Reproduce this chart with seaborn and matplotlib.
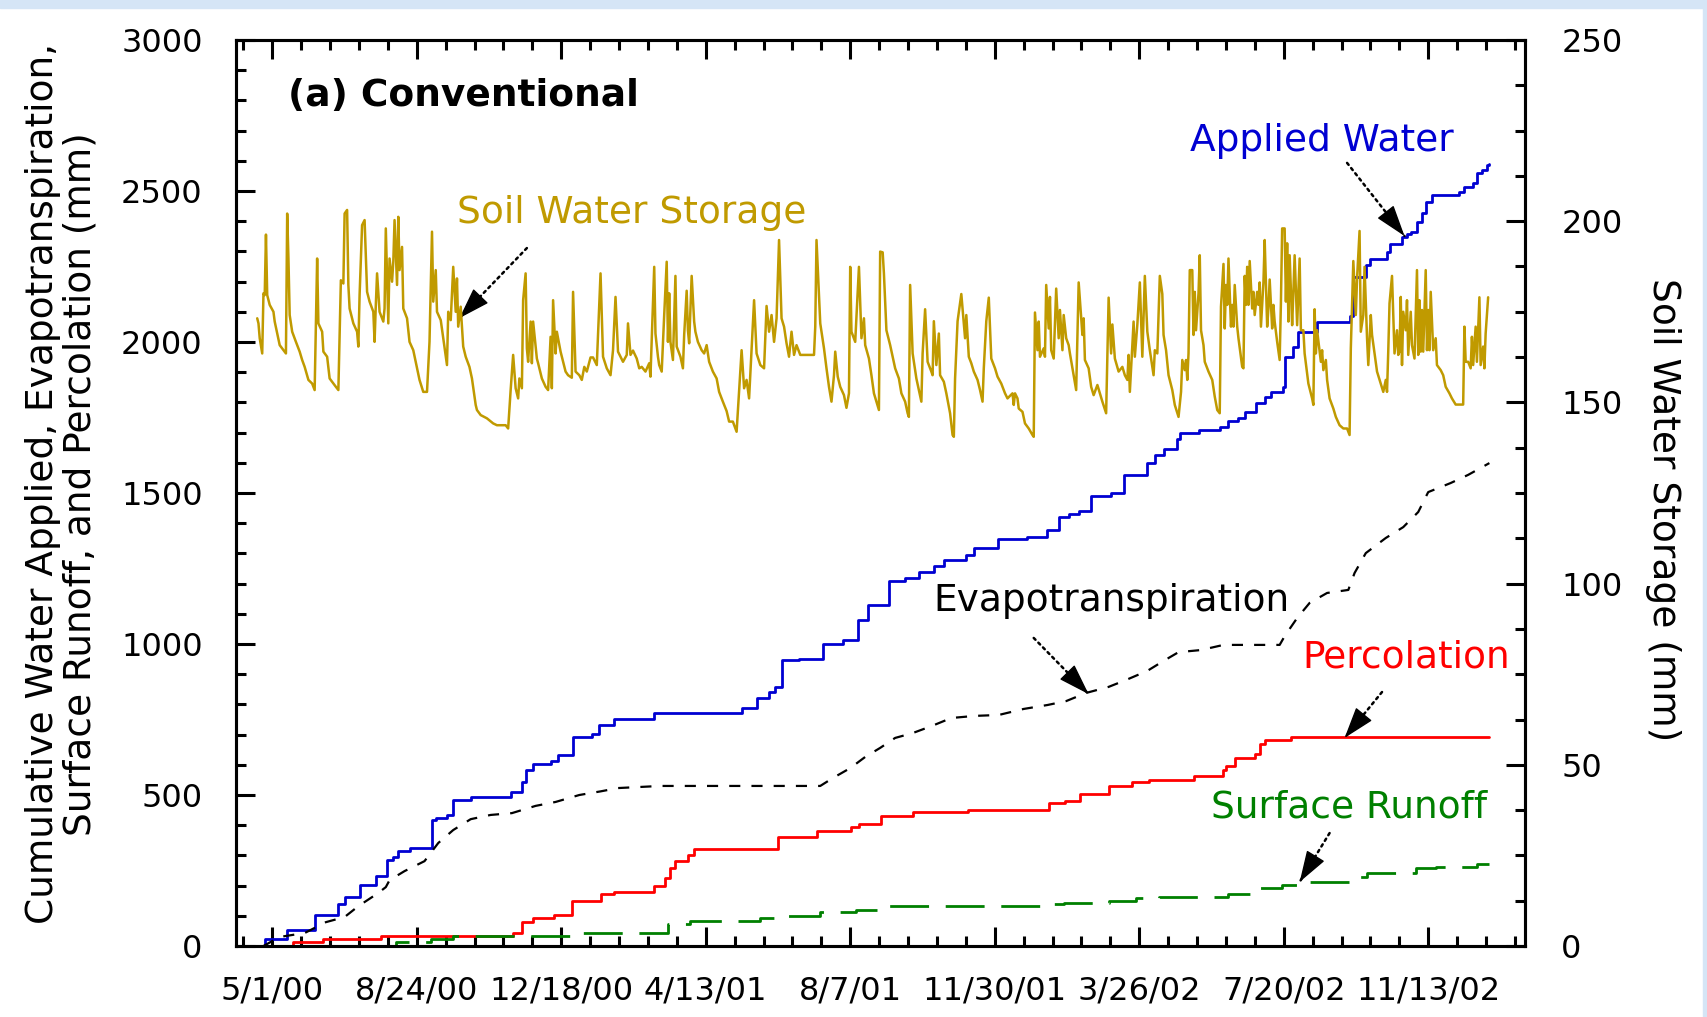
import matplotlib
matplotlib.use('Agg')
import matplotlib.pyplot as plt
from matplotlib.patches import Rectangle
from matplotlib.ticker import MultipleLocator, FixedLocator
import numpy as np
import seaborn as sns

# all x values are days counted from 5/1/00
applied_day = [-8, -6, 12, 34, 53, 58, 70, 83, 92, 97, 101, 110, 128, 131, 140, 145, 159, 191, 200, 203,
               209, 223, 229, 241, 256, 262, 274, 306, 376, 388, 398, 403, 408, 422, 441, 457, 469, 477, 494, 507,
               518, 530, 538, 556, 562, 581, 605, 621, 630, 638, 646, 656, 672, 682, 701, 707, 714, 725, 727, 742,
               759, 766, 774, 779, 788, 795, 800, 810, 811, 818, 822, 837, 863, 866, 876, 879, 893, 895, 905, 909,
               912, 917, 921, 924, 929, 951, 955, 962, 965, 969, 973, 975]
applied_mm = [0, 23, 53, 103, 140, 162, 202, 232, 285, 295, 315, 324, 417, 424, 434, 483, 493, 510, 543, 583,
              603, 613, 632, 692, 702, 732, 752, 771, 788, 821, 841, 858, 947, 950, 1000, 1013, 1079, 1129, 1209, 1218,
              1238, 1258, 1278, 1295, 1318, 1348, 1354, 1377, 1420, 1430, 1440, 1490, 1500, 1560, 1599, 1626, 1646, 1679, 1699, 1708,
              1718, 1738, 1748, 1768, 1798, 1818, 1834, 1851, 1950, 1983, 2033, 2066, 2086, 2215, 2255, 2275, 2298, 2324, 2348, 2358,
              2364, 2397, 2427, 2463, 2487, 2497, 2513, 2526, 2560, 2569, 2586, 2590]

et_day = [-7, 6, 26, 43, 58, 69, 80, 86, 91, 94, 106, 122, 133, 145, 159, 175, 192, 211, 227, 246,
          263, 277, 311, 439, 449, 463, 475, 487, 499, 513, 528, 544, 563, 582, 602, 621, 636, 652, 670, 684,
          701, 714, 726, 744, 762, 807, 811, 821, 831, 845, 862, 867, 876, 892, 906, 918, 926, 944, 958, 975]
et_mm = [0, 30, 43, 79, 96, 132, 162, 179, 195, 218, 248, 281, 341, 384, 420, 434, 440, 464, 477, 500,
         512, 523, 530, 530, 556, 589, 626, 656, 689, 705, 728, 755, 762, 765, 785, 798, 811, 838, 858, 881,
         911, 944, 973, 980, 997, 997, 1026, 1086, 1136, 1169, 1179, 1235, 1301, 1351, 1387, 1437, 1503, 1533, 1560, 1599]

perc_day = [14, 17, 41, 87, 193, 200, 209, 226, 240, 263, 274, 306, 315, 319, 323, 333, 338, 405, 436, 464,
            470, 488, 513, 557, 622, 635, 647, 670, 689, 702, 738, 762, 764, 771, 787, 791, 795, 816, 975]
perc_mm = [0, 13, 23, 33, 43, 79, 93, 103, 149, 172, 179, 199, 225, 258, 281, 301, 321, 361, 381, 394,
           404, 430, 444, 450, 473, 480, 503, 530, 543, 550, 563, 583, 596, 622, 636, 669, 682, 692, 692]

runoff_day = [-7, 99, 127, 145, 245, 317, 335, 391, 409, 439, 468, 485, 488, 618, 634, 670, 692, 710, 766, 788,
              791, 809, 822, 865, 871, 877, 916, 932, 965, 975]
runoff_mm = [0, 13, 23, 33, 43, 73, 83, 93, 99, 113, 119, 126, 132, 139, 142, 149, 159, 162, 172, 179,
             192, 202, 212, 215, 228, 242, 258, 262, 272, 272]

# soil water storage (right axis, mm)
sws_day = [-12, -11, -10, -8, -7, -6, -5, -4, -2, 1,
           2, 4, 6, 9, 11, 12, 13, 14, 16, 19,
           22, 24, 26, 29, 32, 34, 35, 36, 37, 40,
           41, 44, 46, 49, 51, 53, 54, 55, 57, 58,
           60, 61, 62, 65, 68, 69, 70, 72, 74, 76,
           78, 81, 82, 83, 84, 86, 89, 90, 91, 93,
           94, 96, 97, 98, 100, 101, 102, 104, 105, 108,
           110, 113, 116, 118, 121, 124, 126, 128, 129, 131,
           132, 135, 137, 140, 141, 143, 145, 147, 148, 149,
           151, 153, 155, 158, 160, 163, 164, 167, 172, 177,
           180, 187, 189, 191, 193, 195, 197, 198, 200, 201,
           203, 204, 205, 207, 208, 209, 212, 213, 216, 219,
           221, 223, 224, 225, 227, 228, 229,
           231, 233, 235, 237, 240, 241, 243, 246, 248, 250,
           252, 255, 257, 260, 263, 265, 268, 271, 273, 275,
           277, 279, 281, 284, 285, 287, 289, 292, 294, 296,
           299, 302, 303, 306, 307, 309, 310, 312, 314, 316,
           317, 318, 319, 321, 322, 323, 324, 327, 329, 330,
           332, 333, 334, 336, 338, 339, 341, 344, 346, 348,
           350, 353, 356, 358, 361, 364, 366, 369, 372, 374,
           376, 378, 380, 382, 384, 386, 388, 391, 394, 396,
           398, 400, 402, 404, 406, 408, 410, 412, 414, 416,
           418, 420, 423, 434, 435, 436, 439, 442, 444, 446,
           448, 450, 451, 453, 455, 458, 460, 462, 463, 464,
           467, 470, 472, 474, 475, 478,
           480, 482, 484, 486, 487, 489, 490, 492, 495, 497,
           499, 502, 504, 507, 509, 510, 511, 513, 516, 518,
           520, 521, 523, 525, 528, 529, 530, 532, 534, 535,
           538, 540, 543, 545, 546, 547, 549, 552, 555, 556,
           558, 560, 562, 565, 567, 569, 570, 572, 574, 576,
           579, 581, 584, 587, 589, 593, 594, 595, 597, 598,
           601, 603, 606, 609, 610, 611, 613, 614, 615, 618,
           619, 620, 622, 623, 624, 626, 628, 630, 631, 633,
           634, 636, 638, 639, 641, 644, 645, 646, 649, 650,
           651, 654, 656, 658, 661, 663, 665, 668, 670, 672,
           673, 675, 678, 681, 683, 685, 686, 687, 690, 691,
           693, 695, 697, 698, 699, 701, 703, 706, 707, 709,
           711, 713, 714, 716, 718, 721, 723, 726,
           728, 729, 731, 732, 733, 734, 735, 737, 738, 739,
           740, 742, 743, 744, 746, 747, 750, 753, 755, 757,
           759, 760, 762, 763, 764, 765, 766, 768, 769, 770,
           771, 773, 774, 777, 778, 779, 780, 781, 782, 783,
           785, 786, 787, 789, 790, 791, 792, 794, 795, 797,
           798, 799, 801, 802, 803, 805, 807, 808, 809, 811,
           812, 813, 814, 815, 817, 818, 819, 821, 823, 824,
           826, 827, 830, 833, 834, 835, 836, 837, 840, 841,
           842, 844, 845, 847, 850, 852, 855, 858, 861, 863,
           864, 866, 868, 869, 871, 872, 874, 875, 877, 878,
           880, 881, 883, 885, 888, 890, 892, 893, 894, 895,
           897, 899, 901, 902, 903, 904, 905, 906, 908, 909,
           910, 912, 913, 915, 917, 918, 919, 920, 921, 922,
           924, 925, 926, 927, 928, 930, 932, 933, 936, 938,
           940, 943, 945, 948, 954, 955, 956, 958, 960, 961,
           962, 964, 965, 967, 968, 970, 971, 972, 974]
sws_mm = [173.2, 171.8, 167.7, 163.5, 180.1, 179.6, 196.3, 179.6, 176.9, 175.0,
          172.3, 169.0, 165.8, 164.4, 163.5, 202.1, 189.7, 174.1, 169.5, 166.7,
          164.0, 161.7, 159.8, 156.2, 155.2, 153.4, 171.3, 189.7, 171.8, 169.5,
          164.0, 162.6, 156.6, 155.2, 154.3, 153.4, 169.0, 183.7, 182.8, 202.1,
          203.1, 182.4, 175.9, 171.8, 169.5, 165.4, 179.6, 198.9, 200.3, 180.5,
          177.8, 175.0, 166.7, 176.9, 185.6, 175.0, 172.3, 175.9, 198.0, 171.8,
          189.7, 183.3, 188.8, 200.3, 182.4, 201.2, 186.5, 192.9, 175.9, 173.2,
          166.7, 164.4, 159.4, 156.2, 152.9, 152.9, 166.7, 197.1, 177.8, 186.5,
          175.0, 172.7, 167.7, 160.3, 175.0, 172.7, 187.4, 175.0, 184.2, 170.9,
          176.4, 165.4, 162.6, 159.8, 156.6, 149.3, 147.9, 146.5, 145.6, 144.2,
          143.7, 143.7, 142.8, 153.4, 163.1, 153.9, 151.1, 156.6, 153.9, 178.2,
          185.6, 164.9, 161.2, 172.3, 160.8, 172.3, 162.1, 160.8, 156.6, 154.3,
          153.4, 168.1, 153.9, 178.2, 163.5, 169.5, 167.7,
          164.0, 161.2, 158.5, 157.5, 156.8, 180.5, 158.5, 157.5, 156.2, 159.8,
          158.5, 162.4, 162.4, 160.3, 185.6, 162.6, 159.4, 157.5, 164.4, 179.1,
          164.0, 162.6, 161.2, 163.1, 171.8, 163.1, 164.3, 162.1, 159.4, 159.8,
          158.5, 160.8, 157.1, 187.4, 169.0, 162.6, 160.3, 158.5, 174.1, 188.8,
          166.7, 180.1, 166.7, 161.7, 173.2, 184.9, 165.4, 162.6, 159.4, 168.6,
          180.8, 169.9, 166.3, 184.9, 172.3, 169.5, 166.7, 164.4, 163.5, 165.8,
          161.2, 158.5, 156.6, 152.9, 150.2, 147.6, 144.7, 144.7, 141.9, 153.4,
          164.4, 153.9, 156.2, 151.1, 164.9, 178.2, 163.5, 160.3, 159.4, 176.6,
          169.5, 174.1, 166.7, 173.2, 194.8, 173.2, 170.9, 166.3, 162.6, 169.5,
          163.1, 165.8, 163.1, 163.1, 170.9, 194.8, 171.8, 164.9, 159.4, 154.3,
          150.2, 157.5, 164.0, 157.1, 154.3, 152.0, 148.5, 152.5, 187.4, 169.5,
          166.7, 187.4, 167.7, 173.2, 165.8, 162.1,
          157.5, 152.5, 150.2, 147.9, 191.6, 191.4, 185.6, 169.9, 165.8, 162.6,
          159.4, 156.6, 152.5, 150.2, 147.0, 146.0, 182.4, 163.5, 156.6, 153.4,
          150.2, 163.5, 175.7, 161.2, 158.5, 157.5, 172.4, 160.3, 169.0, 157.5,
          155.7, 152.5, 147.0, 141.0, 140.5, 156.6, 172.4, 179.9, 167.7, 174.1,
          162.6, 160.8, 158.5, 156.2, 153.4, 150.2, 159.4, 172.4, 178.9, 162.1,
          159.4, 157.1, 155.2, 152.5, 151.1, 152.5, 149.3, 152.5, 151.1, 148.3,
          147.4, 144.2, 142.8, 141.0, 140.5, 174.8, 164.4, 172.3, 162.6, 164.9,
          162.6, 182.4, 170.4, 179.1, 164.4, 162.1, 181.4, 167.7, 175.5, 164.4,
          174.1, 167.7, 165.8, 163.5, 159.4, 153.4, 168.6, 183.1, 168.6, 173.2,
          161.7, 159.4, 154.3, 152.0, 154.8, 152.5, 150.2, 147.0, 178.9, 163.5,
          171.5, 162.1, 158.5, 159.8, 157.5, 156.2, 163.1, 152.9, 172.3, 162.6,
          171.5, 183.1, 162.6, 174.1, 184.9, 169.5, 164.4, 157.5, 164.4, 163.5,
          184.9, 179.9, 168.6, 164.4, 157.5, 153.4, 149.3, 146.0,
          152.9, 161.7, 158.9, 161.7, 156.2, 163.5, 186.5, 186.5, 168.6, 180.5,
          169.9, 180.1, 190.6, 169.9, 165.8, 161.2, 158.5, 156.2, 151.6, 147.9,
          147.0, 176.4, 188.2, 170.4, 182.4, 176.9, 189.7, 170.9, 176.9, 170.9,
          182.4, 170.9, 167.7, 159.8, 159.4, 184.9, 176.9, 187.4, 176.9, 189.0,
          175.9, 180.5, 174.1, 180.5, 176.9, 183.1, 170.9, 183.1, 194.8, 170.9,
          175.9, 183.9, 170.4, 176.9, 172.3, 166.7, 161.7, 177.3, 198.0, 198.0,
          177.8, 193.9, 172.3, 190.6, 171.3, 180.5, 190.6, 171.3, 189.7, 169.9,
          169.9, 163.5, 155.2, 151.1, 149.3, 175.7, 163.5, 169.9, 161.2, 164.4,
          158.9, 161.7, 156.2, 151.1, 148.3, 146.0, 143.7, 142.8, 142.8, 141.0,
          164.9, 189.0, 174.1, 184.2, 197.3, 169.5, 174.1, 187.4, 167.7, 160.3,
          174.1, 168.6, 163.5, 158.5, 155.2, 152.9, 156.2, 152.9, 164.2, 177.3,
          184.9, 163.5, 169.9, 163.1, 164.0, 179.1, 160.3, 175.0, 169.9, 178.2,
          163.1, 175.0, 165.8, 162.1, 186.5, 163.1, 178.2, 164.0, 175.5, 164.0,
          186.5, 164.4, 175.5, 164.4, 180.5, 164.4, 167.7, 160.3, 158.9, 157.5,
          154.3, 152.5, 151.1, 149.4, 149.4, 170.9, 161.2, 161.2, 159.4, 168.1,
          160.3, 170.9, 161.2, 179.0, 160.3, 165.4, 159.4, 169.0, 179.0]

# x axis: major ticks every 115.75 days starting at 5/1/00
tick_step = 115.75
x_tick_labels = ['5/1/00', '8/24/00', '12/18/00', '4/13/01', '8/7/01',
                 '11/30/01', '3/26/02', '7/20/02', '11/13/02']

BLUE = '#0000d2'
RED = '#ff0000'
GREEN = '#008000'
GOLD = '#c09a00'

sns.set_style('ticks')
plt.rcParams['font.family'] = ['DejaVu Sans']
plt.rcParams.update({'text.color': 'black', 'axes.labelcolor': 'black',
                     'xtick.color': 'black', 'ytick.color': 'black',
                     'axes.edgecolor': 'black'})

fig, ax = plt.subplots(figsize=(17.07, 10.17), dpi=100)
fig.subplots_adjust(left=0.1383, right=0.8934, bottom=0.0698, top=0.9607)
ax2 = ax.twinx()

# light blue page edges seen in the screenshot
fig.patches.append(Rectangle((0, 0.992), 1, 0.008, transform=fig.transFigure, color='#d5e5f6', zorder=0))
fig.patches.append(Rectangle((0.9975, 0), 0.0025, 1, transform=fig.transFigure, color='#d5e5f6', zorder=0))

# cumulative series (left axis)
sns.lineplot(x=applied_day, y=applied_mm, ax=ax, color=BLUE, lw=2.0,
             drawstyle='steps-post', estimator=None, sort=False)
sns.lineplot(x=et_day, y=et_mm, ax=ax, color='black', lw=1.6,
             linestyle=(0, (5, 5)), estimator=None, sort=False)
sns.lineplot(x=perc_day, y=perc_mm, ax=ax, color=RED, lw=2.0,
             drawstyle='steps-post', estimator=None, sort=False)
sns.lineplot(x=runoff_day, y=runoff_mm, ax=ax, color=GREEN, lw=2.0,
             drawstyle='steps-post', linestyle=(0, (14, 6)), estimator=None, sort=False)

# soil water storage (right axis)
sns.lineplot(x=sws_day, y=sws_mm, ax=ax2, color=GOLD, lw=1.8, estimator=None, sort=False)

x0 = -0.25 * tick_step
ax.set_xlim(x0, x0 + 8.92 * tick_step)
ax.set_ylim(0, 3000)
ax2.set_ylim(0, 250)

ax.xaxis.set_major_locator(FixedLocator([k * tick_step for k in range(len(x_tick_labels))]))
ax.set_xticklabels(x_tick_labels)
ax.xaxis.set_minor_locator(FixedLocator([k * tick_step / 5 for k in range(-1, 45)]))
ax.yaxis.set_major_locator(MultipleLocator(500))
ax.yaxis.set_minor_locator(MultipleLocator(100))
ax2.yaxis.set_major_locator(MultipleLocator(50))
ax2.yaxis.set_minor_locator(MultipleLocator(12.5))

for a in (ax, ax2):
    a.tick_params(which='major', length=14, width=2.2, color='black')
    a.tick_params(which='minor', length=7, width=2.2, color='black')
    for s in a.spines.values():
        s.set_linewidth(2.2)
        s.set_color('black')

ax.tick_params(axis='x', which='both', direction='in', top=True, bottom=True,
               labelsize=23, pad=21, labelcolor='black')
ax.tick_params(axis='y', which='both', direction='in', left=True, right=False,
               labelsize=23, pad=24, labelcolor='black')
ax2.tick_params(axis='y', which='both', direction='in', right=True, left=False,
                labelsize=23, pad=26, labelcolor='black')

ax.set_xlabel('')
ax.set_ylabel('Cumulative Water Applied, Evapotranspiration,\nSurface Runoff, and Percolation (mm)',
              fontsize=27, va='center', linespacing=1.05, color='black')
ax.yaxis.set_label_coords(-0.135, 0.51)
ax2.set_ylabel('Soil Water Storage (mm)', fontsize=27, rotation=270, va='center', color='black')
ax2.yaxis.set_label_coords(1.107, 0.482)

ax.text(0.04, 0.938, '(a) Conventional', transform=ax.transAxes, fontsize=27,
        fontweight='bold', ha='left', va='center', color='black')

# labels with arrows: (text, colour, text position, arrow tail, arrow head)
notes = [
    ('Soil Water Storage', GOLD, (148, 2427), (204, 2311), (150, 2079)),
    ('Applied Water', BLUE, (735, 2665), (861, 2593), (907, 2351)),
    ('Evapotranspiration', 'black', (530, 1142), (610, 1020), (654, 834)),
    ('Percolation', RED, (825, 954), (889, 841), (859, 689)),
    ('Surface Runoff', GREEN, (752, 457), (847, 374), (823, 212)),
]
head_px = 28  # arrow head length in pixels
for txt, col, pos, tail, head in notes:
    ax.text(pos[0], pos[1], txt, color=col, fontsize=27, ha='left', va='center')
    # dotted shaft
    ax.annotate('', xy=head, xytext=tail,
                arrowprops=dict(arrowstyle='-', color='black', lw=1.8,
                                linestyle=':', shrinkA=0, shrinkB=0))
    # solid filled head: start just one head length back from the tip
    h = ax.transData.transform(head)
    t = ax.transData.transform(tail)
    d = t - h
    base = h + d / np.hypot(*d) * head_px
    base = ax.transData.inverted().transform(base)
    ax.annotate('', xy=head, xytext=tuple(base),
                arrowprops=dict(arrowstyle='-|>,head_length=1.0,head_width=0.33',
                                mutation_scale=20, color='black', lw=1.0,
                                shrinkA=0, shrinkB=0))

fig.savefig('out.png', dpi=100, facecolor='white')
